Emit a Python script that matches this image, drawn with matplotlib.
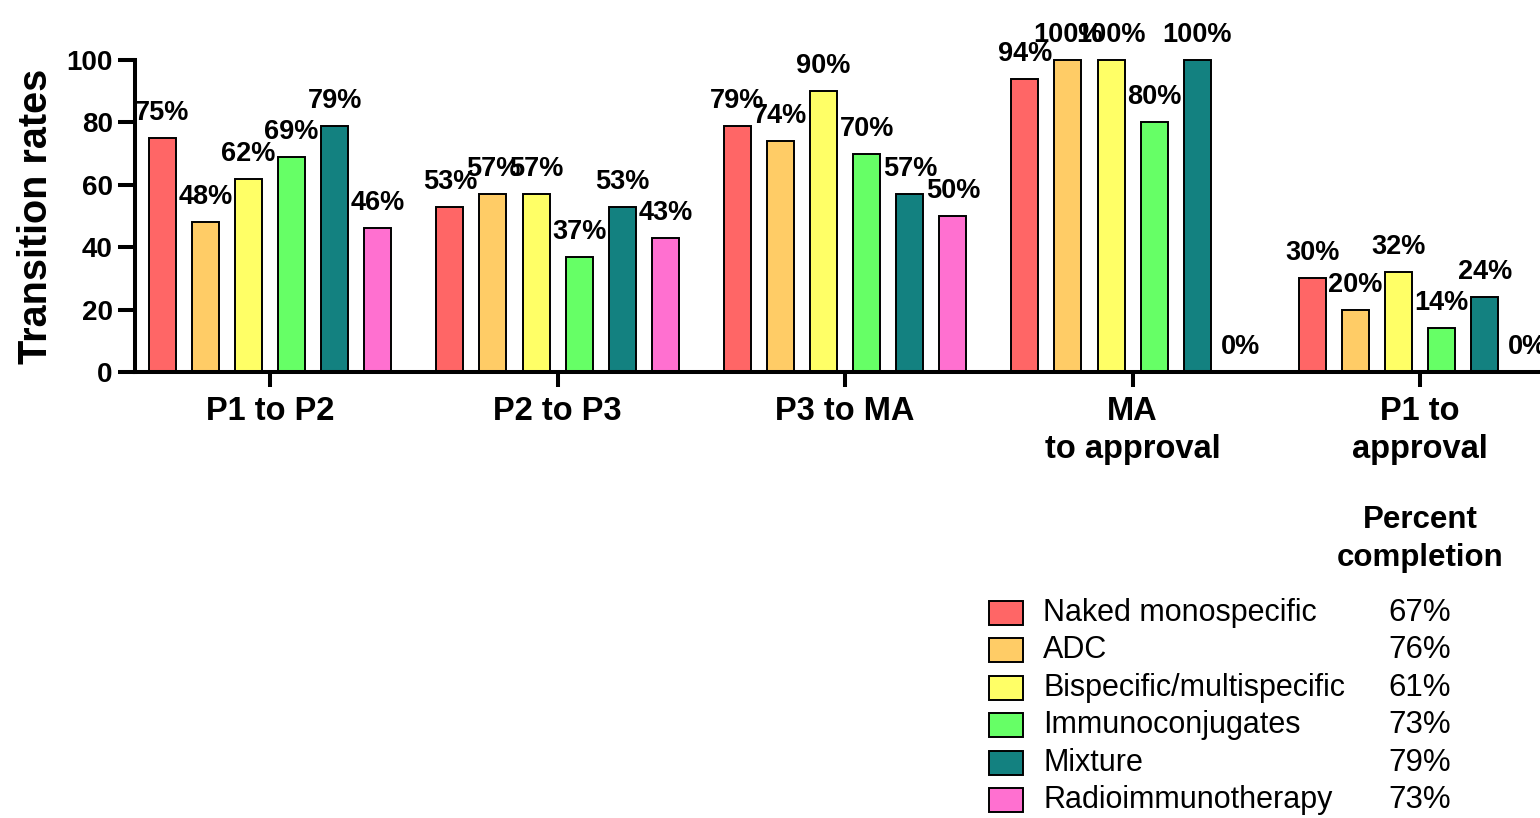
import numpy as np
import matplotlib.pyplot as plt
import matplotlib as mpl
from matplotlib.patches import Rectangle

# -- Data ----------------------------------------------------------------
stages = ["P1 to P2", "P2 to P3", "P3 to MA", "MA\nto approval", "P1 to\napproval"]
categories = ["Naked monospecific", "ADC", "Bispecific/multispecific",
              "Immunoconjugates", "Mixture", "Radioimmunotherapy"]
naked = [75, 53, 79, 94, 30]
adc = [48, 57, 74, 100, 20]
bispecific = [62, 57, 90, 100, 32]
immunoconj = [69, 37, 70, 80, 14]
mixture = [79, 53, 57, 100, 24]
radio = [46, 43, 50, 0, 0]
completion = [67, 76, 61, 73, 79, 73]

colors = ["#FF6666", "#FFCC66", "#FFFF66", "#66FF66", "#138180", "#FF70D0"]

series = [naked, adc, bispecific, immunoconj, mixture, radio]

# -- Style ---------------------------------------------------------------
mpl.rcParams.update({
    "font.family": ["Liberation Sans", "DejaVu Sans"],
    "axes.linewidth": 2.9,
})

W, H = 1540, 818
fig = plt.figure(figsize=(W / 100, H / 100), dpi=100)
ax = fig.add_axes([135 / W, 1 - 372 / H, 1 - 135 / W, (372 - 60) / H])

x = np.arange(len(stages))
step = 0.15
width = 0.094
for i, (vals, col) in enumerate(zip(series, colors)):
    pos = x + (i - 2.5) * step
    ax.bar(pos, vals, width=width, color=col, edgecolor="black",
           linewidth=1.4, zorder=2, clip_on=False)
    for px, v in zip(pos, vals):
        ax.annotate(f"{v}%", (px, v), xytext=(0, 18), textcoords="offset points",
                    ha="center", va="center", fontsize=19.5, fontweight="bold",
                    annotation_clip=False)

ax.set_xlim(-0.47, 4.417)
ax.set_ylim(0, 100)
ax.set_yticks([0, 20, 40, 60, 80, 100])
ax.set_xticks(x)
ax.set_xticklabels(stages, fontsize=23.5, fontweight="bold", linespacing=1.3)
for lab in ax.get_yticklabels():
    lab.set_fontweight("bold")
ax.tick_params(axis="y", labelsize=20, length=12, width=2.9, pad=4)
ax.tick_params(axis="x", length=11, width=2.9, pad=6)
ax.spines["top"].set_visible(False)
ax.spines["right"].set_visible(False)
ax.set_ylabel("Transition rates", fontsize=28.5, fontweight="bold", labelpad=8)

# -- Legend with percent completion --------------------------------------
fig.text(1420 / W, 1 - 539 / H, "Percent\ncompletion", ha="center", va="center",
         fontsize=22.5, fontweight="bold", linespacing=1.35)
row0, pitch = 613, 37.4
for i, (cat, col, pc) in enumerate(zip(categories, colors, completion)):
    yc = row0 + i * pitch
    fig.patches.append(Rectangle((989 / W, 1 - (yc + 12) / H), 34 / W, 24 / H,
                                 transform=fig.transFigure, facecolor=col,
                                 edgecolor="black", linewidth=1.4))
    fig.text(1043 / W, 1 - yc / H, cat, ha="left", va="center", fontsize=22)
    fig.text(1420 / W, 1 - yc / H, f"{pc}%", ha="center", va="center", fontsize=22.5)

plt.savefig("out.png", dpi=100)
